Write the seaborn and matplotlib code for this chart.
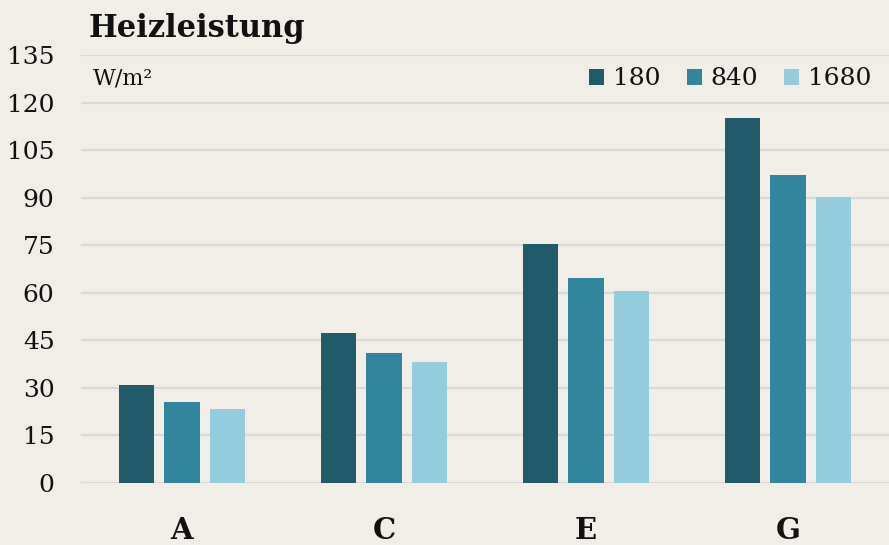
import numpy as np
import pandas as pd
import matplotlib.pyplot as plt
import seaborn as sns

# Werte
kategorien = ["A", "C", "E", "G"]
serien = ["180", "840", "1680"]
werte_180 = [31, 47.3, 75.4, 115.1]
werte_840 = [25.5, 41, 64.7, 97.1]
werte_1680 = [23.3, 38.2, 60.6, 90.2]
y_ticks = [0, 15, 30, 45, 60, 75, 90, 105, 120, 135]

farben = ["#215A69", "#31869E", "#93CDDD"]
hintergrund = "#F1EEE8"

df = pd.DataFrame({
    "Kategorie": kategorien * 3,
    "Serie": [s for s in serien for _ in kategorien],
    "Wert": werte_180 + werte_840 + werte_1680,
})

sns.set_style("white")
plt.rcParams["font.family"] = ["DejaVu Serif", "DejaVu Sans"]

fig = plt.figure(figsize=(8.89, 5.45), dpi=100, facecolor=hintergrund)
ax = fig.add_axes([0.0911, 0.1138, 0.9089, 0.7852])
ax.set_facecolor(hintergrund)

sns.barplot(
    data=df, x="Kategorie", y="Wert", hue="Serie", hue_order=serien,
    order=kategorien, palette=farben, width=0.67, gap=0.22,
    saturation=1, linewidth=0, ax=ax, legend=True,
)

ax.set_ylim(0, 135)
ax.set_xlim(-0.5, 3.5)
ax.set_yticks(y_ticks)
ax.yaxis.grid(True, color="#D9D9D9", linewidth=1.6)
ax.set_axisbelow(True)
for s in ax.spines.values():
    s.set_visible(False)

ax.tick_params(axis="y", length=0, pad=19, labelsize=18, labelcolor="#111111")
ax.tick_params(axis="x", length=0, pad=24, labelsize=21, labelcolor="#111111")
for lbl in ax.get_xticklabels():
    lbl.set_fontweight("bold")
ax.set_xlabel("")
ax.set_ylabel("")

# Titel und Einheit
fig.text(0.1, 1 - 37 / 545, "Heizleistung", fontsize=22, fontweight="bold",
         va="baseline", ha="left", color="#111111")
ax.text(0.015, 0.945, "W/m²", transform=ax.transAxes, fontsize=16,
        va="center", ha="left", color="#111111")

ax.legend(loc="upper right", bbox_to_anchor=(1.0, 1.012), ncol=3, frameon=False,
          fontsize=18, handlelength=0.6, handleheight=0.6, handletextpad=0.35,
          columnspacing=1.05, borderaxespad=0.3, labelcolor="#111111")

fig.savefig("out.png", dpi=100, facecolor=hintergrund)
